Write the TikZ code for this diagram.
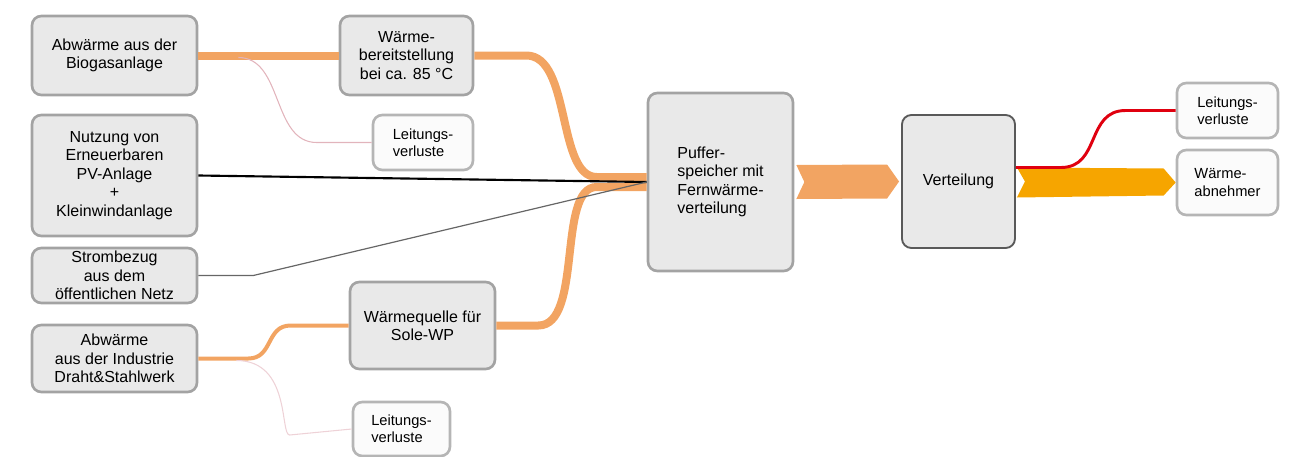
\documentclass[tikz,border=0pt]{standalone}
\usepackage{fontspec}
\setmainfont{Liberation Sans}
\usetikzlibrary{calc}
\definecolor{BoxFill}{HTML}{E9E9E9}
\definecolor{BoxLine}{HTML}{A3A3A3}
\definecolor{LossFill}{HTML}{FBFBFB}
\definecolor{Heat}{HTML}{F2A462}
\definecolor{Amber}{HTML}{F6A500}
\definecolor{LossRed}{HTML}{E0000F}
\definecolor{LossPink}{HTML}{E2B4BC}

\begin{document}
\begin{tikzpicture}[x=0.75pt, y=-0.75pt,
        box/.style={draw=BoxLine, fill=BoxFill, line width=2pt, rounded corners=7pt, align=center,
            font=\fontsize{12}{13.8}\selectfont},
        lossbox/.style={box, fill=LossFill, draw=BoxLine!80, align=left, font=\fontsize{11}{12.8}\selectfont},
        sz/.style 2 args={minimum width=#1*0.75pt, minimum height=#2*0.75pt, inner sep=0pt},
        heat/.style={draw=Heat, line width=#1*0.75pt},
        loss/.style={draw=LossPink, line width=0.8pt}]
    \useasboundingbox (0,0) rectangle (1290,457);

    % sources on the left
    \node[box, sz={165}{79}] (bio) at (114.5,55.5) {Abwärme aus der\\Biogasanlage};
    \node[box, sz={165}{121}] (nutz) at (114.5,175.5) {Nutzung von\\Erneuerbaren\\PV-Anlage\\+\\Kleinwindanlage};
    \node[box, sz={165}{55}] (strom) at (114.5,275.5) {Strombezug\\aus dem\\öffentlichen Netz};
    \node[box, sz={165}{67}] (ind) at (114.5,358.5) {Abwärme\\aus der Industrie\\Draht\&Stahlwerk};

    % intermediate steps
    \node[box, sz={133}{79}] (waerme) at (406.5,55.5) {Wärme-\\bereitstellung\\bei ca. 85 °C};
    \node[lossbox, sz={100}{55}] (verl1) at (423,142.5) {Leitungs-\\verluste};
    \node[box, sz={145}{87}] (quelle) at (422.5,325.5) {Wärmequelle für\\Sole-WP};
    \node[lossbox, sz={97}{54}] (verl2) at (401.5,429) {Leitungs-\\verluste};

    % storage and distribution
    \node[box, sz={145}{178}, align=left] (puffer) at (720.5,182) {Puffer-\\speicher mit\\Fernwärme-\\verteilung};
    \node[box, sz={113}{133}, draw=black!65, line width=1.4pt] (vert) at (958.5,181.5) {Verteilung};
    \node[lossbox, sz={101}{55}] (verl3) at (1227.5,110.5) {Leitungs-\\verluste};
    \node[lossbox, sz={101}{65}] (abn) at (1227.5,182.5) {Wärme-\\abnehmer};

    % heat flows
    \draw[heat=8] (bio.east) -- (waerme.west);
    \draw[loss] ($(bio.east)+(40,2)$) .. controls +(45,0) and +(-45,0) .. ($(verl1.west)+(-55,0)$) -- (verl1.west);
    \draw[heat=8] (waerme.east) -- ++(52,0) .. controls +(45,0) and +(-40,0) .. ($(puffer.west)+(-50,-5)$) -- ($(puffer.west)+(0,-5)$);
    \draw[heat=4] (ind.east) -- ++(50,0) .. controls +(25,0) and +(-25,0) .. ($(quelle.west)+(-58,0)$) -- (quelle.west);
    \draw[loss, draw=LossPink!60] ($(ind.east)+(38,2)$) .. controls +(55,0) and +(-10,0) .. ($(verl2.west)+(-62,6)$) -- (verl2.west);
    \draw[heat=8] (quelle.east) -- ++(42,0) .. controls +(45,0) and +(-40,0) .. ($(puffer.west)+(-50,5)$) -- ($(puffer.west)+(0,5)$);

    % electricity
    \draw[black, line width=1.6pt] (nutz.east) -- (puffer.west);
    \draw[black!60, line width=0.9pt] (strom.east) -- ++(55,0) -- (puffer.west);

    \fill[Heat] ($(puffer.east)+(2,-17)$) -- ($(vert.west)+(-14,-17)$) -- ($(vert.west)+(-2,0)$)
        -- ($(vert.west)+(-14,17)$) -- ($(puffer.east)+(2,17)$) -- ($(puffer.east)+(10,0)$) -- cycle;
    \fill[Amber] ($(vert.east)+(1,-14)$) -- ($(abn.west)+(-12,-14)$) -- ($(abn.west)+(0,0)$)
        -- ($(abn.west)+(-12,13)$) -- ($(vert.east)+(1,16)$) -- ($(vert.east)+(9,0)$) -- cycle;
    \draw[LossRed, line width=2.2pt] ($(vert.east)+(0,-14)$) -- ++(45,0) .. controls +(40,0) and +(-40,0) .. ($(verl3.west)+(-50,0)$) -- (verl3.west);
\end{tikzpicture}
\end{document}
